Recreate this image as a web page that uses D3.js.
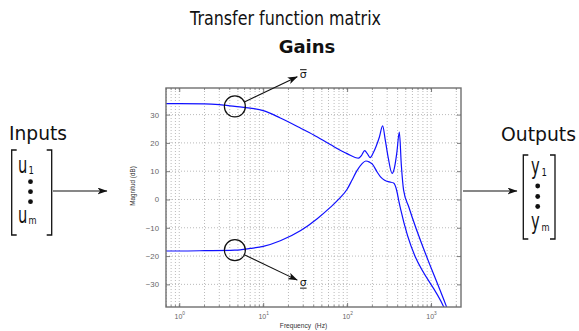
<!DOCTYPE html>
<html>
<head>
<meta charset="utf-8">
<script src="https://cdn.jsdelivr.net/npm/d3@7"></script>
<style>
  body { margin: 0; background: #fff; }
  svg { display: block; }
</style>
</head>
<body>
<div id="chart"></div>
<script>
// singular values of the transfer function matrix
const freqUpper = [0.6, 1, 2, 3, 4.6, 7, 10, 16, 28, 40, 63, 100, 137, 148, 162, 174, 188, 205, 223, 242, 265, 285, 310, 343, 365, 391, 419, 443, 471, 541, 1515, 1700];
const gainUpper = [33.9, 33.9, 33.8, 33.5, 32.9, 32.3, 31.4, 28.8, 25.2, 22.8, 19.4, 16.2, 14.6, 15.5, 17.3, 16.2, 14.8, 16.5, 19, 22, 26, 21, 14.5, 9.2, 11, 16.5, 23.8, 12, 3.3, -2.5, -37.6, -41.5];

const freqLower = [0.6, 1, 2, 4.6, 7, 10, 16, 28, 44, 63, 80, 100, 115, 131, 150, 167, 185, 200, 227, 250, 280, 320, 358, 391, 411, 437, 1413, 1550];
const gainLower = [-18.2, -18.2, -18.1, -17.9, -17.3, -16.6, -14.6, -11.0, -6.8, -2.8, 0.2, 3.6, 7.0, 10.2, 12.6, 13.6, 13.2, 12.5, 9.8, 8.0, 6.8, 6.2, 5.8, 3.0, -0.2, -3.8, -37.9, -40.5];

const xMajor = [1, 10, 100, 1000];
const xMajorExp = ['0', '1', '2', '3'];
const yTicks = [-30, -20, -10, 0, 10, 20, 30];

// where the two circles sit on the curves
const markFreq = 4.6;
const markUpper = 32.9;
const markLower = -17.9;

const width = 579, height = 331;
const plot = { left: 166, right: 461, top: 88, bottom: 307 };

const svg = d3.select('#chart').append('svg')
  .attr('width', width)
  .attr('height', height);

const x = d3.scaleLog().domain([0.695, 2275]).range([plot.left, plot.right]);
const y = d3.scaleLinear().domain([-38, 39.4]).range([plot.bottom, plot.top]);

// every 1..9 * 10^k inside the domain, for grid and minor ticks
const xMinor = [];
for (let k = -1; k <= 3; k++) {
  for (let m = 1; m <= 9; m++) {
    const v = m * Math.pow(10, k);
    if (v >= x.domain()[0] && v <= x.domain()[1]) xMinor.push(v);
  }
}

svg.append('defs').append('marker')
  .attr('id', 'head')
  .attr('viewBox', '0 0 10 7')
  .attr('refX', 9.5)
  .attr('refY', 3.5)
  .attr('markerWidth', 10)
  .attr('markerHeight', 7)
  .attr('markerUnits', 'userSpaceOnUse')
  .attr('orient', 'auto')
  .append('path')
  .attr('d', 'M0,0 L10,3.5 L0,7 L2.6,3.5 Z')
  .attr('fill', '#111');

svg.select('defs').append('clipPath')
  .attr('id', 'plotClip')
  .append('rect')
  .attr('x', plot.left)
  .attr('y', plot.top)
  .attr('width', plot.right - plot.left)
  .attr('height', plot.bottom - plot.top);

drawGrid();
drawCurves();
drawAxes();
drawAnnotations();
drawBlocks();

function drawGrid() {
  const grid = svg.append('g')
    .attr('stroke', '#a8a8a8')
    .attr('stroke-width', 0.8)
    .attr('stroke-dasharray', '1,2');

  grid.selectAll('line.vx')
    .data(xMinor)
    .join('line')
    .attr('x1', d => x(d)).attr('x2', d => x(d))
    .attr('y1', plot.top).attr('y2', plot.bottom);

  grid.selectAll('line.hy')
    .data(yTicks)
    .join('line')
    .attr('x1', plot.left).attr('x2', plot.right)
    .attr('y1', d => y(d)).attr('y2', d => y(d));
}

function drawCurves() {
  const line = d3.line()
    .x(d => x(d[0]))
    .y(d => y(d[1]))
    .curve(d3.curveMonotoneX);

  const series = [
    d3.zip(freqUpper, gainUpper),
    d3.zip(freqLower, gainLower)
  ];

  svg.append('g')
    .attr('clip-path', 'url(#plotClip)')
    .selectAll('path')
    .data(series)
    .join('path')
    .attr('d', line)
    .attr('fill', 'none')
    .attr('stroke', '#1010ff')
    .attr('stroke-width', 1.2);
}

function drawAxes() {
  const frameColor = '#707070';
  const labelColor = '#666';

  // bottom, with 10^k labels
  const xAxis = d3.axisBottom(x)
    .tickValues(xMajor)
    .tickSizeInner(-4)
    .tickSizeOuter(0)
    .tickPadding(7)
    .tickFormat(() => '');

  const gx = svg.append('g')
    .attr('transform', `translate(0,${plot.bottom})`)
    .call(xAxis);

  gx.selectAll('.tick text')
    .attr('font-family', 'Liberation Sans, Arial, sans-serif')
    .attr('font-size', 7)
    .attr('fill', labelColor)
    .each(function(d, i) {
      const t = d3.select(this);
      t.append('tspan').text('10');
      t.append('tspan').text(xMajorExp[i])
        .attr('font-size', 4.8)
        .attr('dy', '-0.9em');
    });

  // top mirror
  svg.append('g')
    .attr('transform', `translate(0,${plot.top})`)
    .call(d3.axisTop(x).tickValues(xMajor).tickSizeInner(-4).tickSizeOuter(0).tickFormat(''));

  // minor ticks top and bottom
  const minor = svg.append('g').attr('stroke', frameColor).attr('stroke-width', 0.8);
  minor.selectAll('line.mb')
    .data(xMinor)
    .join('line')
    .attr('x1', d => x(d)).attr('x2', d => x(d))
    .attr('y1', plot.bottom).attr('y2', plot.bottom - 2);
  minor.selectAll('line.mt')
    .data(xMinor)
    .join('line')
    .attr('class', 'mt')
    .attr('x1', d => x(d)).attr('x2', d => x(d))
    .attr('y1', plot.top).attr('y2', plot.top + 2);

  const yAxis = d3.axisLeft(y)
    .tickValues(yTicks)
    .tickSizeInner(-4)
    .tickSizeOuter(0)
    .tickPadding(7);

  const gy = svg.append('g')
    .attr('transform', `translate(${plot.left},0)`)
    .call(yAxis);

  gy.selectAll('.tick text')
    .attr('font-family', 'Liberation Sans, Arial, sans-serif')
    .attr('font-size', 7.8)
    .attr('fill', labelColor);

  svg.append('g')
    .attr('transform', `translate(${plot.right},0)`)
    .call(d3.axisRight(y).tickValues(yTicks).tickSizeInner(-4).tickSizeOuter(0).tickFormat(''));

  svg.selectAll('.domain').remove();
  svg.selectAll('.tick line').attr('stroke', frameColor).attr('stroke-width', 0.9);

  svg.append('rect')
    .attr('x', plot.left)
    .attr('y', plot.top)
    .attr('width', plot.right - plot.left)
    .attr('height', plot.bottom - plot.top)
    .attr('fill', 'none')
    .attr('stroke', frameColor)
    .attr('stroke-width', 1.4);

  svg.append('text')
    .attr('transform', 'translate(135,186) rotate(-90)')
    .attr('text-anchor', 'middle')
    .attr('font-family', 'Liberation Sans, Arial, sans-serif')
    .attr('font-size', 6.3)
    .attr('fill', '#333')
    .text('Magnitud (dB)');

  svg.append('text')
    .attr('x', 303.5)
    .attr('y', 328)
    .attr('text-anchor', 'middle')
    .attr('font-family', 'Liberation Sans, Arial, sans-serif')
    .attr('font-size', 6.6)
    .attr('fill', '#333')
    .attr('xml:space', 'preserve')
    .text('Frequency  (Hz)');
}

function drawAnnotations() {
  const r = 10.5;
  const g = svg.append('g').attr('stroke', '#111').attr('fill', 'none');
  const font = 'DejaVu Sans, sans-serif';

  const marks = [
    { cx: x(markFreq), cy: y(markUpper), tip: [x(markFreq) + 62.4, y(markUpper) - 29.7], over: true },
    { cx: x(markFreq), cy: y(markLower), tip: [x(markFreq) + 62.4, y(markLower) + 30], over: false }
  ];

  marks.forEach(m => {
    g.append('circle')
      .attr('cx', m.cx).attr('cy', m.cy).attr('r', r)
      .attr('stroke-width', 1.2);

    const dx = m.tip[0] - m.cx, dy = m.tip[1] - m.cy;
    const len = Math.hypot(dx, dy);
    g.append('line')
      .attr('x1', m.cx + dx / len * r)
      .attr('y1', m.cy + dy / len * r)
      .attr('x2', m.tip[0])
      .attr('y2', m.tip[1])
      .attr('stroke-width', 1.1)
      .attr('marker-end', 'url(#head)');

    const tx = m.tip[0] + 2.5;
    const ty = m.over ? m.tip[1] + 1 : m.tip[1] + 6;
    svg.append('text')
      .attr('x', tx).attr('y', ty)
      .attr('font-family', font)
      .attr('font-size', 11)
      .attr('fill', '#111')
      .text('σ');
    const ly = m.over ? ty - 8 : ty + 2;
    svg.append('line')
      .attr('x1', tx + 0.3).attr('x2', tx + 6.8)
      .attr('y1', ly).attr('y2', ly)
      .attr('stroke', '#111')
      .attr('stroke-width', 1);
  });
}

function drawBlocks() {
  const font = 'DejaVu Sans, sans-serif';
  const ink = '#111';

  svg.append('text')
    .attr('x', 190).attr('y', 25)
    .attr('font-family', font)
    .attr('font-size', 19)
    .attr('textLength', 191)
    .attr('lengthAdjust', 'spacingAndGlyphs')
    .attr('fill', ink)
    .text('Transfer function matrix');

  svg.append('text')
    .attr('x', 307).attr('y', 53)
    .attr('text-anchor', 'middle')
    .attr('font-family', font)
    .attr('font-weight', 'bold')
    .attr('font-size', 18)
    .attr('fill', ink)
    .text('Gains');

  svg.append('text')
    .attr('x', 9).attr('y', 140)
    .attr('font-family', font)
    .attr('font-size', 20)
    .attr('textLength', 58)
    .attr('lengthAdjust', 'spacingAndGlyphs')
    .attr('fill', ink)
    .text('Inputs');

  svg.append('text')
    .attr('x', 501).attr('y', 141)
    .attr('font-family', font)
    .attr('font-size', 19)
    .attr('textLength', 75)
    .attr('lengthAdjust', 'spacingAndGlyphs')
    .attr('fill', ink)
    .text('Outputs');

  const blocks = [
    { left: 11.7, right: 51.7, top: 150, bottom: 235, letter: 'u', lx: 18, b1: 173, bm: 223, dotX: 30.5, dots: [181.7, 191.7, 201.7] },
    { left: 523.3, right: 555, top: 155, bottom: 239, letter: 'y', lx: 531, b1: 173.5, bm: 228.5, dotX: 537.7, dots: [186, 196.5, 206.5] }
  ];

  blocks.forEach(b => {
    const s = 5;
    svg.append('path')
      .attr('d', `M${b.left + s},${b.top} H${b.left} V${b.bottom} H${b.left + s}`)
      .attr('fill', 'none').attr('stroke', ink).attr('stroke-width', 1.3);
    svg.append('path')
      .attr('d', `M${b.right - s},${b.top} H${b.right} V${b.bottom} H${b.right - s}`)
      .attr('fill', 'none').attr('stroke', ink).attr('stroke-width', 1.3);

    [[b.b1, '1'], [b.bm, 'm']].forEach(([base, sub]) => {
      svg.append('text')
        .attr('transform', `translate(${b.lx},${base}) scale(0.7,1.1)`)
        .attr('font-family', font)
        .attr('font-size', 21)
        .attr('fill', ink)
        .text(b.letter);
      svg.append('text')
        .attr('transform', `translate(${b.lx + 10.5},${base + (b.letter === 'y' ? 2 : 1)}) scale(${sub === 'm' ? 0.75 : 0.85},1)`)
        .attr('font-family', font)
        .attr('font-size', sub === 'm' ? 11 : 10)
        .attr('fill', ink)
        .text(sub);
    });

    svg.selectAll(null)
      .data(b.dots)
      .join('circle')
      .attr('cx', b.dotX)
      .attr('cy', d => d)
      .attr('r', 2.4)
      .attr('fill', ink);
  });

  // arrows into and out of the plot
  [[53, 107], [463, 517]].forEach(([x1, x2]) => {
    svg.append('line')
      .attr('x1', x1).attr('x2', x2)
      .attr('y1', 191).attr('y2', 191)
      .attr('stroke', ink)
      .attr('stroke-width', 1.1)
      .attr('marker-end', 'url(#head)');
  });
}
</script>
</body>
</html>
